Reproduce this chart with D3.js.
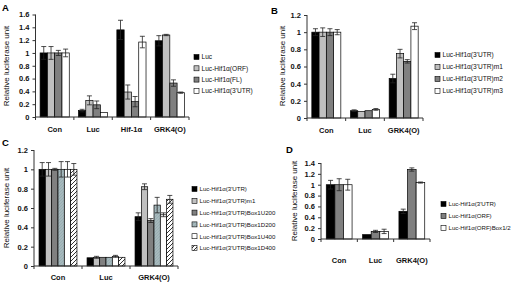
<!DOCTYPE html>
<html><head><meta charset="utf-8">
<script src="https://cdn.jsdelivr.net/npm/d3@7"></script>
<style>
html,body{margin:0;padding:0;background:#fff;}
svg{display:block;font-family:"Liberation Sans",Arial,sans-serif;}
</style></head>
<body>
<svg id="chart" width="511" height="283"></svg>
<script>
// ---------- DATA ----------
const catsA = ["Con", "Luc", "Hif-1α", "GRK4(O)"];
const seriesA = ["Luc", "Luc-Hif1α(ORF)", "Luc-Hif1α(FL)", "Luc-Hif1α(3'UTR)"];
const valuesA = [
  [1.00, 0.10, 1.36, 1.19],
  [1.00, 0.26, 0.39, 1.28],
  [1.00, 0.19, 0.24, 0.53],
  [1.00, 0.07, 1.17, 0.38]
];
const errorsA = [
  [0.10, 0.02, 0.15, 0.08],
  [0.10, 0.07, 0.11, 0.01],
  [0.04, 0.06, 0.08, 0.05],
  [0.06, 0.00, 0.09, 0.01]
];
const ticksA = [0, 0.2, 0.4, 0.6, 0.8, 1, 1.2, 1.4, 1.6];

const catsB = ["Con", "Luc", "GRK4(O)"];
const seriesB = ["Luc-Hif1α(3'UTR)", "Luc-Hif1α(3'UTR)m1", "Luc-Hif1α(3'UTR)m2", "Luc-Hif1α(3'UTR)m3"];
const valuesB = [
  [1.00, 0.085, 0.46],
  [1.00, 0.075, 0.75],
  [1.00, 0.085, 0.66],
  [1.00, 0.10, 1.07]
];
const errorsB = [
  [0.04, 0.01, 0.05],
  [0.05, 0.00, 0.05],
  [0.04, 0.00, 0.02],
  [0.03, 0.01, 0.04]
];
const ticksB = [0, 0.2, 0.4, 0.6, 0.8, 1, 1.2];

const catsC = ["Con", "Luc", "GRK4(O)"];
const seriesC = ["Luc-Hif1α(3'UTR)", "Luc-Hif1α(3'UTR)m1", "Luc-Hif1α(3'UTR)Box1U200",
                 "Luc-Hif1α(3'UTR)Box1D200", "Luc-Hif1α(3'UTR)Box1U400", "Luc-Hif1α(3'UTR)Box1D400"];
const valuesC = [
  [1.00, 0.085, 0.51],
  [1.00, 0.09, 0.82],
  [1.00, 0.09, 0.47],
  [1.00, 0.09, 0.63],
  [1.00, 0.10, 0.53],
  [1.00, 0.09, 0.69]
];
const errorsC = [
  [0.07, 0.00, 0.04],
  [0.07, 0.01, 0.03],
  [0.01, 0.00, 0.02],
  [0.08, 0.00, 0.08],
  [0.08, 0.01, 0.02],
  [0.06, 0.00, 0.04]
];
const ticksC = [0, 0.2, 0.4, 0.6, 0.8, 1, 1.2];

const catsD = ["Con", "Luc", "GRK4(O)"];
const seriesD = ["Luc-Hif1α(3'UTR)", "Luc-Hif1α(ORF)", "Luc-Hif1α(ORF)Box1/2"];
const valuesD = [
  [1.00, 0.08, 0.51],
  [1.00, 0.14, 1.28],
  [1.00, 0.14, 1.04]
];
const errorsD = [
  [0.08, 0.00, 0.04],
  [0.11, 0.02, 0.03],
  [0.10, 0.04, 0.01]
];
const ticksD = [0, 0.2, 0.4, 0.6, 0.8, 1, 1.2, 1.4];

const yTitle = "Relative luciferase unit";

// ---------- DRAWING ----------
const svg = d3.select("#chart");
const defs = svg.append("defs");
const hatch = defs.append("pattern").attr("id", "hatchW").attr("patternUnits", "userSpaceOnUse")
  .attr("width", 4).attr("height", 4);
hatch.append("rect").attr("width", 4).attr("height", 4).attr("fill", "#fff");
hatch.append("path").attr("d", "M-1,1 l2,-2 M0,4 l4,-4 M3,5 l2,-2").attr("stroke", "#000").attr("stroke-width", 0.8);
const hatchT = defs.append("pattern").attr("id", "hatchT").attr("patternUnits", "userSpaceOnUse")
  .attr("width", 3).attr("height", 3);
hatchT.append("rect").attr("width", 3).attr("height", 3).attr("fill", "#a6b9bd");
hatchT.append("path").attr("d", "M-1,1 l2,-2 M0,3 l3,-3 M2,4 l2,-2").attr("stroke", "#8fa3a7").attr("stroke-width", 0.5);

function fmt(v) { return d3.format("")(+v.toFixed(1)); }

function drawPanel(p) {
  const g = svg.append("g");
  const x = d3.scaleBand().domain(p.cats).range([p.x0, p.x1]).padding(0);
  const y = d3.scaleLinear().domain([0, d3.max(p.ticks)]).range([p.y0, p.yTop]);
  const bw = x.bandwidth();
  const xs = d3.scaleBand().domain(d3.range(p.series.length))
    .range([bw * p.pad, bw * (1 - p.pad)]).padding(0);

  // bars
  p.series.forEach((s, si) => {
    p.cats.forEach((c, ci) => {
      const v = p.values[si][ci];
      g.append("rect")
        .attr("x", x(c) + xs(si)).attr("width", xs.bandwidth())
        .attr("y", y(v)).attr("height", y(0) - y(v))
        .attr("fill", p.colors[si]).attr("stroke", "#000").attr("stroke-width", 0.7);
    });
  });
  // error bars
  p.series.forEach((s, si) => {
    p.cats.forEach((c, ci) => {
      const v = p.values[si][ci], e = p.errors[si][ci];
      if (e <= 0) return;
      const cx = x(c) + xs(si) + xs.bandwidth() / 2;
      const cw = 2.5;
      g.append("path")
        .attr("d", `M${cx},${y(v + e)}V${y(Math.max(0, v - e))}M${cx - cw},${y(v + e)}h${2 * cw}M${cx - cw},${y(Math.max(0, v - e))}h${2 * cw}`)
        .attr("stroke", "#222").attr("stroke-width", 0.8).attr("fill", "none");
    });
  });

  // y axis
  const ya = d3.axisLeft(y).tickValues(p.ticks).tickSize(3).tickPadding(3).tickFormat(fmt);
  const yg = g.append("g").attr("transform", `translate(${p.x0},0)`).call(ya);
  yg.select(".domain").attr("d", `M0,${p.y0}V${p.yTop}`);
  yg.selectAll("line").attr("stroke", "#333");
  yg.select(".domain").attr("stroke", "#333");
  yg.selectAll("text").attr("font-size", 7.5).attr("font-weight", "bold").attr("fill", "#111")
    .attr("font-family", "Liberation Sans, Arial, sans-serif");

  // x axis
  const xg = g.append("g");
  xg.append("line").attr("x1", p.x0).attr("x2", p.x1).attr("y1", p.y0).attr("y2", p.y0).attr("stroke", "#333");
  const bounds = p.cats.map(c => x(c)).concat([x(p.cats[p.cats.length - 1]) + bw]);
  bounds.forEach(b => xg.append("line").attr("x1", b).attr("x2", b).attr("y1", p.y0).attr("y2", p.y0 + 3).attr("stroke", "#333"));
  p.cats.forEach(c => {
    xg.append("text").attr("x", x(c) + bw / 2).attr("y", p.y0 + p.labDy)
      .attr("text-anchor", "middle").attr("font-size", 7.5).attr("font-weight", "bold").attr("fill", "#111")
      .text(c);
  });

  // y title
  g.append("text").attr("transform", `translate(${p.tx},${p.ty}) rotate(-90)`)
    .attr("text-anchor", "middle").attr("font-size", 8).attr("fill", "#111").text(yTitle);

  // panel letter
  g.append("text").attr("x", p.lx).attr("y", p.ly).attr("font-size", 9.5).attr("font-weight", "bold").text(p.letter);

  // legend
  p.series.forEach((s, si) => {
    const ly = p.legY + si * p.legDy;
    g.append("rect").attr("x", p.legX).attr("y", ly - 2.5).attr("width", 5).attr("height", 5)
      .attr("fill", p.colors[si]).attr("stroke", "#000").attr("stroke-width", 0.6);
    g.append("text").attr("x", p.legX + 7.5).attr("y", ly + 2.3).attr("font-size", p.legFs).attr("fill", "#111").text(s);
  });
}

drawPanel({letter: "A", lx: 2, ly: 11, cats: catsA, series: seriesA, values: valuesA, errors: errorsA, ticks: ticksA,
  colors: ["#000", "#c0c0c0", "#808080", "#fff"],
  x0: 35.5, x1: 189, y0: 117, yTop: 14.5, pad: 0.12, labDy: 15, tx: 9, ty: 66,
  legX: 194, legY: 57, legDy: 11.3, legFs: 6.6});
drawPanel({letter: "B", lx: 271, ly: 14, cats: catsB, series: seriesB, values: valuesB, errors: errorsB, ticks: ticksB,
  colors: ["#000", "#c0c0c0", "#808080", "#fff"],
  x0: 307, x1: 423, y0: 118, yTop: 15, pad: 0.125, labDy: 15, tx: 285, ty: 66,
  legX: 435, legY: 55, legDy: 12, legFs: 6.6});
drawPanel({letter: "C", lx: 2, ly: 146, cats: catsC, series: seriesC, values: valuesC, errors: errorsC, ticks: ticksC,
  colors: ["#000", "#c0c0c0", "#808080", "url(#hatchT)", "#fff", "url(#hatchW)"],
  x0: 34, x1: 178, y0: 266, yTop: 150, pad: 0.105, labDy: 14, tx: 9, ty: 208,
  legX: 192, legY: 189, legDy: 11.8, legFs: 6.1});
drawPanel({letter: "D", lx: 286, ly: 153, cats: catsD, series: seriesD, values: valuesD, errors: errorsD, ticks: ticksD,
  colors: ["#000", "#808080", "#fff"],
  x0: 321, x1: 430, y0: 239, yTop: 163, pad: 0.145, labDy: 24, tx: 297, ty: 201,
  legX: 441, legY: 204, legDy: 12, legFs: 6.1});
</script>
</body></html>
